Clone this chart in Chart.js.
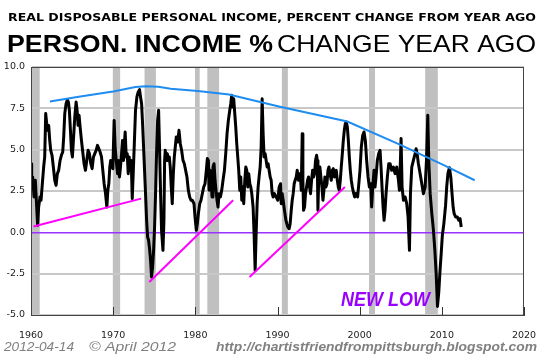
<!DOCTYPE html>
<html><head><meta charset="utf-8">
<script src="https://cdn.jsdelivr.net/npm/chart.js@4"></script>
<style>html,body{margin:0;padding:0;background:#fff;}canvas{display:block}</style>
</head><body>
<canvas id="c" width="545" height="360"></canvas>
<script>
const incomeYears = [
1960.00,1960.08,1960.20,1960.37,1960.53,1960.69,1960.81,1960.93,1961.10,1961.22,1961.38,1961.54,1961.67,1961.79,1961.91,
1962.03,1962.15,1962.28,1962.40,1962.56,1962.72,1962.89,1963.05,1963.21,1963.37,1963.54,1963.70,1963.86,1963.98,
1964.11,1964.27,1964.43,1964.55,1964.67,1964.80,1964.92,1965.04,1965.16,1965.33,1965.49,1965.61,1965.73,1965.85,1965.98,
1966.14,1966.30,1966.46,1966.63,1966.79,1966.95,1967.11,1967.28,1967.44,1967.60,1967.76,1967.93,
1968.09,1968.25,1968.41,1968.58,1968.74,1968.90,1969.07,1969.23,1969.35,1969.47,1969.59,1969.70,1969.80,1969.96,
1970.12,1970.24,1970.37,1970.53,1970.65,1970.77,1970.89,1971.02,1971.14,1971.26,1971.34,1971.46,1971.59,1971.71,1971.83,1971.95,
1972.07,1972.20,1972.32,1972.44,1972.56,1972.72,1972.89,1973.05,1973.21,1973.33,1973.46,1973.58,1973.70,1973.82,1973.94,
1974.07,1974.19,1974.31,1974.43,1974.55,1974.67,1974.80,1974.92,1975.04,1975.16,1975.28,1975.41,1975.53,1975.65,1975.77,1975.89,
1976.06,1976.18,1976.26,1976.34,1976.46,1976.59,1976.71,1976.83,1976.95,1977.07,1977.19,1977.32,1977.44,1977.56,1977.68,1977.85,
1978.01,1978.17,1978.33,1978.50,1978.66,1978.82,1978.98,1979.15,1979.31,1979.47,1979.63,1979.84,1979.96,
1980.12,1980.24,1980.37,1980.53,1980.69,1980.85,1981.02,1981.18,1981.34,1981.46,1981.59,1981.67,1981.79,1981.91,
1982.03,1982.15,1982.28,1982.40,1982.52,1982.64,1982.76,1982.89,1983.05,1983.21,1983.37,1983.54,1983.70,1983.86,
1984.02,1984.19,1984.31,1984.43,1984.55,1984.67,1984.80,1984.92,1985.04,1985.16,1985.28,1985.41,1985.53,1985.65,1985.77,1985.89,
1986.02,1986.14,1986.26,1986.38,1986.50,1986.63,1986.75,1986.87,1987.03,1987.15,1987.28,1987.40,1987.52,1987.64,1987.76,1987.89,
1988.01,1988.13,1988.25,1988.37,1988.50,1988.62,1988.74,1988.86,1988.98,1989.11,1989.23,1989.35,1989.47,1989.63,1989.84,
1990.04,1990.20,1990.37,1990.45,1990.57,1990.69,1990.85,1991.02,1991.14,1991.26,1991.42,1991.54,1991.67,1991.79,1991.91,
1992.03,1992.15,1992.28,1992.40,1992.56,1992.68,1992.80,1992.89,1993.01,1993.09,1993.17,1993.29,1993.41,1993.54,1993.66,1993.78,1993.90,
1994.02,1994.15,1994.27,1994.39,1994.51,1994.63,1994.76,1994.84,1994.92,1995.04,1995.16,1995.28,1995.41,1995.53,1995.65,1995.77,1995.89,
1996.02,1996.14,1996.26,1996.38,1996.54,1996.67,1996.79,1996.91,1997.03,1997.15,1997.28,1997.40,1997.52,1997.64,1997.76,1997.89,
1998.01,1998.13,1998.25,1998.37,1998.50,1998.62,1998.74,1998.86,1998.98,1999.11,1999.23,1999.39,1999.55,1999.75,1999.90,
2000.04,2000.20,2000.37,2000.53,2000.69,2000.85,2001.02,2001.18,2001.34,2001.46,2001.59,2001.75,2001.87,2001.99,
2002.15,2002.32,2002.48,2002.60,2002.72,2002.85,2002.97,2003.09,2003.21,2003.37,2003.54,2003.70,2003.90,
2004.11,2004.31,2004.51,2004.72,2004.84,2004.96,2005.04,2005.16,2005.33,2005.53,2005.73,2005.89,
2006.06,2006.18,2006.34,2006.54,2006.75,2006.87,2006.99,2007.15,2007.36,2007.56,2007.76,2007.97,
2008.13,2008.29,2008.41,2008.58,2008.78,2008.98,2009.15,2009.31,2009.47,2009.63,2009.78,2009.92,
2010.06,2010.24,2010.45,2010.60,2010.75,2010.93,2011.10,2011.25,2011.38,2011.50,2011.68,2011.88,2012.05,2012.22,2012.36
];
const incomeValues = [
4.15,2.74,3.35,2.14,3.15,1.53,0.42,1.53,2.14,1.94,2.94,3.95,4.56,7.18,6.57,
6.17,6.47,5.56,4.96,4.66,3.95,3.15,2.84,3.55,3.75,4.35,4.66,4.86,5.77,
7.18,7.78,8.02,7.88,7.38,6.17,4.96,4.56,5.56,6.98,7.88,7.38,6.47,7.08,6.37,
5.56,4.86,4.15,3.75,4.35,4.96,4.76,4.15,3.85,4.56,4.76,4.96,
5.26,5.06,4.86,4.56,3.75,2.94,2.34,1.53,2.54,2.94,3.95,4.35,4.15,3.85,
6.77,5.16,4.35,3.55,4.35,3.35,3.95,4.76,5.56,4.35,5.16,6.07,4.56,4.76,3.55,4.56,
3.75,4.35,2.04,3.55,5.16,7.38,8.19,8.49,8.63,8.19,7.78,6.57,5.16,3.75,2.34,
0.73,-0.28,-0.48,-0.99,-1.69,-2.70,-2.10,-1.09,0.32,2.34,4.76,6.77,7.38,4.96,2.34,0.12,
-1.09,0.73,4.35,4.96,4.35,4.76,4.35,4.56,3.95,2.74,1.73,3.55,4.56,5.16,5.77,5.46,
6.17,5.36,4.96,4.35,4.15,3.75,3.35,2.54,2.14,1.94,1.94,1.73,0.93,
0.12,0.52,1.13,1.73,1.94,2.34,2.74,2.94,3.75,4.46,4.35,2.54,3.75,3.15,
2.14,3.95,4.15,3.15,2.54,1.94,1.53,2.34,2.14,2.54,3.15,3.75,4.76,5.97,
6.77,7.38,7.78,8.29,7.58,8.08,7.18,6.37,5.36,4.56,3.75,2.54,3.35,1.94,2.74,1.73,
3.15,3.95,3.75,2.74,3.55,2.94,2.74,2.34,1.53,-0.08,-2.30,-0.08,1.73,2.74,3.35,3.95,
5.16,8.08,5.97,4.56,4.76,4.35,3.95,4.15,3.75,3.35,3.15,2.34,2.14,2.34,2.14,
1.94,2.74,2.94,1.73,2.34,1.94,1.33,0.73,0.52,0.32,0.22,0.52,1.33,1.94,2.34,
2.94,3.15,3.35,3.75,3.15,3.55,3.35,2.54,5.97,3.15,1.33,1.53,2.34,2.74,3.15,3.35,2.74,
2.34,3.15,3.75,3.35,3.55,4.35,4.66,4.35,1.33,3.75,3.95,3.35,2.74,1.94,2.54,3.35,2.74,
2.94,3.75,3.95,3.55,3.15,3.75,3.85,3.35,3.55,3.75,3.15,2.74,2.54,3.15,3.95,4.76,
5.56,6.17,6.57,6.67,6.37,5.56,4.56,3.75,3.15,2.74,2.44,2.14,2.34,2.14,2.94,
3.75,5.16,5.87,6.07,5.56,4.35,3.35,2.74,2.94,1.53,2.74,3.75,2.74,3.35,
4.35,4.76,4.96,3.95,2.74,1.53,0.73,1.33,2.34,3.35,4.15,4.15,3.75,
3.95,3.55,3.95,3.15,2.54,4.35,5.67,2.74,1.94,2.14,1.73,0.93,
-1.09,2.34,3.95,4.35,4.76,5.06,4.76,4.15,3.55,2.94,2.34,2.74,
4.35,7.08,4.35,2.34,1.13,0.12,-1.09,-2.50,-4.48,-3.60,-2.30,-1.30,
-0.20,0.50,1.60,2.80,3.60,3.91,3.30,2.30,1.50,1.13,0.93,0.93,0.73,0.83,0.32
];
const recessionStarts = [1960.0, 1969.96, 1973.82, 1979.96, 1981.46, 1990.53, 2001.14, 2007.97];
const recessionEnds   = [1961.06, 1970.85, 1975.20, 1980.53, 1982.89, 1991.26, 2001.87, 2009.51];
const resistYears  = [1962.3, 1966.0, 1970.0, 1972.7, 1974.0, 1975.5, 1977.0, 1980.3, 1984.1, 1990.3, 1998.5, 2004.9, 2010.3, 2014.0];
const resistValues = [7.92, 8.21, 8.52, 8.79, 8.83, 8.80, 8.69, 8.55, 8.33, 7.60, 6.70, 5.30, 4.05, 3.15];
const support1Years = [1960.3, 1973.4];
const support1Values = [0.35, 2.04];
const support2Years = [1974.4, 1984.6];
const support2Values = [-3.0, 1.94];
const support3Years = [1986.6, 1998.2];
const support3Values = [-2.7, 2.74];
const yTickValues = [-5, -2.5, 0, 2.5, 5, 7.5, 10];
const xTickValues = [1960, 1970, 1980, 1990, 2000, 2010, 2020];

function pts(xs, ys){ return xs.map((x,i)=>({x:x, y:ys[i]})); }

function fitText(ctx, text, x, y, w, font, color){
  ctx.save();
  ctx.font = font; ctx.fillStyle = color;
  ctx.textAlign = 'left'; ctx.textBaseline = 'alphabetic';
  const m = ctx.measureText(text).width;
  ctx.translate(x, y); ctx.scale(w/m, 1);
  ctx.fillText(text, 0, 0);
  ctx.restore();
}

const decor = {
  id: 'decor',
  beforeDraw(chart){
    const {ctx, chartArea:a, scales:{x}} = chart;
    ctx.save();
    ctx.fillStyle = '#c0c0c0';
    for (let i=0;i<recessionStarts.length;i++){
      const x0 = Math.max(a.left, x.getPixelForValue(recessionStarts[i]));
      const x1 = Math.min(a.right, x.getPixelForValue(recessionEnds[i]));
      ctx.fillRect(x0, a.top, x1-x0, a.bottom-a.top);
    }
    ctx.restore();
  },
  afterDraw(chart){
    const {ctx, chartArea:a, scales:{x}} = chart;
    ctx.save();
    ctx.strokeStyle = '#333'; ctx.lineWidth = 1;
    for (const v of xTickValues){
      const px = Math.round(x.getPixelForValue(v)) + 0.5;
      ctx.beginPath(); ctx.moveTo(px, a.bottom); ctx.lineTo(px, a.bottom-8); ctx.stroke();
    }
    ctx.strokeStyle = '#444';
    ctx.strokeRect(Math.round(a.left)+0.5, Math.round(a.top)+0.5, Math.round(a.right-a.left)-1, Math.round(a.bottom-a.top));
    ctx.restore();
    fitText(ctx, 'REAL DISPOSABLE PERSONAL INCOME, PERCENT CHANGE FROM YEAR AGO', 8, 21, 528, 'bold 10.5px "DejaVu Sans"', '#000');
    fitText(ctx, 'PERSON. INCOME %', 7, 52, 266, 'bold 24px "Liberation Sans"', '#000');
    fitText(ctx, 'CHANGE YEAR AGO', 277, 52, 259, '24px "Liberation Sans"', '#000');
    fitText(ctx, 'NEW LOW', 341, 306, 89, 'italic bold 20px "Liberation Sans"', '#9900ff');
    fitText(ctx, '2012-04-14', 4, 351, 70, 'italic 13.5px "Liberation Sans"', '#808080');
    fitText(ctx, '\u00A9 April 2012', 89, 351, 87, 'italic 13.5px "Liberation Sans"', '#808080');
    fitText(ctx, 'http://chartistfriendfrompittsburgh.blogspot.com', 216, 351, 321, 'italic bold 13.5px "Liberation Sans"', '#808080');
  }
};

new Chart(document.getElementById('c'), {
  type: 'line',
  data: {
    datasets: [
      {data: pts(incomeYears, incomeValues), borderColor:'#000', borderWidth:3, pointRadius:0, tension:0, borderJoinStyle:'round', order:2},
      {data: pts(resistYears, resistValues), borderColor:'#1e8cf0', borderWidth:2, pointRadius:0, tension:0, order:1},
      {data: pts(support1Years, support1Values), borderColor:'#ff00ff', borderWidth:2, pointRadius:0, order:1},
      {data: pts(support2Years, support2Values), borderColor:'#ff00ff', borderWidth:2, pointRadius:0, order:1},
      {data: pts(support3Years, support3Values), borderColor:'#ff00ff', borderWidth:2, pointRadius:0, order:1}
    ]
  },
  options: {
    responsive:false, animation:false, devicePixelRatio:1,
    layout:{padding:{top:67, right:21, left:0, bottom:0}},
    plugins:{legend:{display:false}, tooltip:{enabled:false}},
    scales:{
      x:{type:'linear', min:1960, max:2020,
        afterBuildTicks(s){ s.ticks = xTickValues.map(v=>({value:v})); },
        afterFit(s){ s.height = 45; },
        grid:{display:false},
        border:{display:true, color:'#444', width:1},
        ticks:{padding:7, maxRotation:0, autoSkip:false, color:'#222', font:{family:'DejaVu Sans', size:9.5}, callback:v=>String(v)}
      },
      y:{type:'linear', min:-5, max:10,
        afterBuildTicks(s){ s.ticks = yTickValues.map(v=>({value:v})); },
        afterFit(s){ s.width = 31; },
        grid:{drawTicks:false,
          color:c=> (c.tick && c.tick.value===0) ? '#9933ff' : '#c8c8c8',
          lineWidth:c=> (c.tick && c.tick.value===0) ? 1.5 : 2},
        border:{display:true, color:'#444', width:1},
        ticks:{padding:6, color:'#222', font:{family:'DejaVu Sans', size:9.5}, callback:v=>Number(v).toFixed(1)}
      }
    }
  },
  plugins:[decor]
});
</script>
</body></html>
